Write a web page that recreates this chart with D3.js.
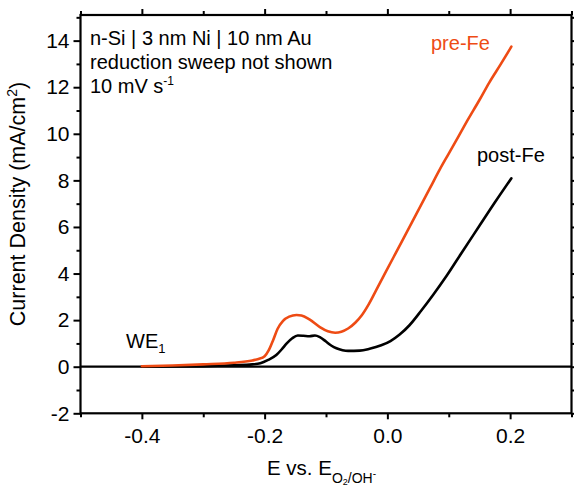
<!DOCTYPE html>
<html>
<head>
<meta charset="utf-8">
<script src="https://cdn.jsdelivr.net/npm/d3@7"></script>
<style>
  html, body { margin: 0; padding: 0; background: #fff; }
  svg { display: block; font-family: "Liberation Sans", Arial, sans-serif; }
</style>
</head>
<body>
<svg id="chart" width="574" height="487"></svg>
<script>
// Potential (V vs. E O2/OH-) and current density (mA/cm^2) for the anodic sweeps
const preFeE = [-0.40, -0.35, -0.30, -0.25, -0.22, -0.21, -0.20, -0.193, -0.186, -0.179,
  -0.170, -0.160, -0.148, -0.140, -0.127, -0.110, -0.097, -0.085, -0.075, -0.064,
  -0.052, -0.042, -0.030, -0.018, -0.005, 0.010, 0.025, 0.040, 0.055, 0.070,
  0.085, 0.100, 0.115, 0.130, 0.150, 0.166, 0.185, 0.202];
const preFeJ = [0.02, 0.05, 0.10, 0.17, 0.27, 0.33, 0.45, 0.72, 1.15, 1.62,
  1.97, 2.15, 2.22, 2.20, 2.03, 1.70, 1.52, 1.46, 1.50, 1.64,
  1.90, 2.20, 2.70, 3.30, 3.95, 4.70, 5.45, 6.20, 6.95, 7.70,
  8.45, 9.15, 9.85, 10.55, 11.45, 12.20, 13.00, 13.74];

const postFeE = [-0.40, -0.30, -0.25, -0.22, -0.207, -0.195, -0.181, -0.172, -0.164, -0.155,
  -0.146, -0.137, -0.127, -0.118, -0.110, -0.100, -0.091, -0.083, -0.073, -0.064,
  -0.045, -0.029, -0.010, 0.005, 0.020, 0.036, 0.055, 0.075, 0.096, 0.120,
  0.150, 0.175, 0.202];
const postFeJ = [0.00, 0.02, 0.06, 0.10, 0.15, 0.28, 0.50, 0.75, 1.00, 1.22,
  1.34, 1.33, 1.31, 1.34, 1.27, 1.08, 0.90, 0.79, 0.71, 0.68,
  0.69, 0.77, 0.92, 1.10, 1.38, 1.78, 2.40, 3.10, 3.88, 4.85,
  6.05, 7.05, 8.09];

const xMajorTicks = [-0.4, -0.2, 0.0, 0.2];
const xMinorTicks = [-0.5, -0.3, -0.1, 0.1, 0.3];
const yMajorTicks = [-2, 0, 2, 4, 6, 8, 10, 12, 14];
const yMinorTicks = [-1, 1, 3, 5, 7, 9, 11, 13, 15];

const orange = "#ee4b14";

const svg = d3.select("#chart");
const plot = { left: 80.5, right: 571.5, top: 15, bottom: 413.3 };

const x = d3.scaleLinear().domain([-0.5, 0.3]).range([plot.left, plot.right]);
const y = d3.scaleLinear().domain([-2, 15.1]).range([plot.bottom, plot.top]);

const fmtX = d => d3.format(".1f")(d).replace("−", "-");
const fmtY = d => String(d);

function axisPair(axisFn, scale, major, minor, majorLen, minorLen, fmt, labels) {
  const g = svg.append("g");
  g.append("g").call(axisFn(scale).tickValues(major).tickSize(majorLen).tickPadding(4)
      .tickFormat(labels ? fmt : () => ""));
  g.append("g").call(axisFn(scale).tickValues(minor).tickSize(minorLen).tickFormat(() => ""));
  g.selectAll(".domain").remove();
  g.selectAll(".tick line").attr("stroke", "#000").attr("stroke-width", 2);
  g.selectAll(".tick text").attr("fill", "#000").attr("font-size", 21)
    .attr("font-family", "Liberation Sans, Arial, sans-serif");
  return g;
}

// zero line
svg.append("line")
  .attr("x1", plot.left).attr("x2", plot.right)
  .attr("y1", y(0)).attr("y2", y(0))
  .attr("stroke", "#000").attr("stroke-width", 2.2);

// curves
const line = (E, J) => d3.line()
  .x(i => x(E[i])).y(i => y(J[i]))
  .curve(d3.curveMonotoneX)(d3.range(E.length));

svg.append("path").attr("d", line(postFeE, postFeJ))
  .attr("fill", "none").attr("stroke", "#000").attr("stroke-width", 2.6)
  .attr("stroke-linejoin", "round").attr("stroke-linecap", "round");
svg.append("path").attr("d", line(preFeE, preFeJ))
  .attr("fill", "none").attr("stroke", orange).attr("stroke-width", 2.6)
  .attr("stroke-linejoin", "round").attr("stroke-linecap", "round");

// axes with mirrored ticks
const bottom = axisPair(d3.axisBottom, x, xMajorTicks, xMinorTicks, 6, 4, fmtX, true)
  .attr("transform", `translate(0,${plot.bottom})`);
bottom.selectAll(".tick text").attr("dy", "0.92em");
axisPair(d3.axisTop, x, xMajorTicks, xMinorTicks, 6, 4, fmtX, false)
  .attr("transform", `translate(0,${plot.top})`);
axisPair(d3.axisLeft, y, yMajorTicks, yMinorTicks, 7, 4, fmtY, true)
  .attr("transform", `translate(${plot.left},0)`);
axisPair(d3.axisRight, y, yMajorTicks, yMinorTicks, 4, 3, fmtY, false)
  .attr("transform", `translate(${plot.right},0)`);

// frame
svg.append("rect")
  .attr("x", plot.left).attr("y", plot.top)
  .attr("width", plot.right - plot.left).attr("height", plot.bottom - plot.top)
  .attr("fill", "none").attr("stroke", "#000").attr("stroke-width", 2.2);

// axis titles
const yt = svg.append("text")
  .attr("transform", "translate(25,204) rotate(-90)")
  .attr("text-anchor", "middle").attr("font-size", 21.5).attr("fill", "#000");
yt.append("tspan").text("Current Density (mA/cm");
yt.append("tspan").attr("font-size", 14).attr("dy", -8).text("2");
yt.append("tspan").attr("dy", 8).text(")");

const xt = svg.append("text")
  .attr("x", 267).attr("y", 475).attr("font-size", 20.5).attr("fill", "#000");
xt.append("tspan").text("E vs. E");
xt.append("tspan").attr("font-size", 14).attr("dy", 8).text("O");
xt.append("tspan").attr("font-size", 9).attr("dy", 2).text("2");
xt.append("tspan").attr("font-size", 14).attr("dy", -2).text("/OH");
xt.append("tspan").attr("font-size", 10).attr("dy", -6).text("-");

// annotations
const note = svg.append("g").attr("font-size", 20).attr("fill", "#000");
note.append("text").attr("x", 90).attr("y", 45).text("n-Si | 3 nm Ni | 10 nm Au");
note.append("text").attr("x", 90).attr("y", 69).text("reduction sweep not shown");
const rate = note.append("text").attr("x", 90).attr("y", 93);
rate.append("tspan").text("10 mV s");
rate.append("tspan").attr("font-size", 12).attr("dy", -8).text("-1");

svg.append("text").attr("x", 431).attr("y", 50).attr("font-size", 20)
  .attr("fill", orange).text("pre-Fe");
svg.append("text").attr("x", 477).attr("y", 162).attr("font-size", 20)
  .attr("fill", "#000").text("post-Fe");

const we = svg.append("text").attr("x", 126).attr("y", 348)
  .attr("font-size", 20).attr("fill", "#000");
we.append("tspan").text("WE");
we.append("tspan").attr("font-size", 13).attr("dy", 5).text("1");
</script>
</body>
</html>
